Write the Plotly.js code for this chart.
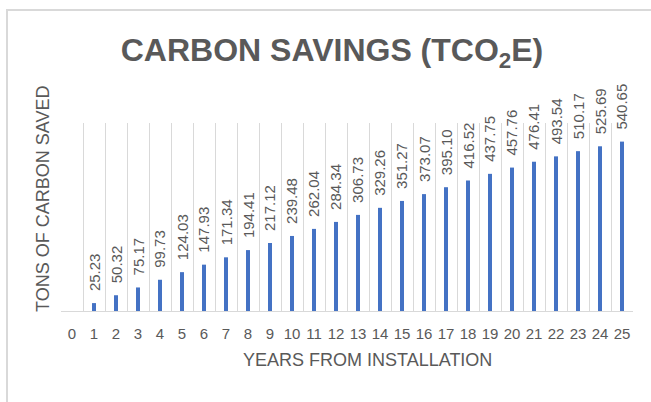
<!DOCTYPE html>
<html>
<head>
<meta charset="utf-8">
<script src="https://cdn.plot.ly/plotly-3.0.1.min.js"></script>
<style>html,body{margin:0;padding:0;background:#fff;}#chart{width:651px;height:402px;}</style>
</head>
<body>
<div id="chart"></div>
<script>
const years = ["0","1","2","3","4","5","6","7","8","9","10","11","12","13","14","15","16","17","18","19","20","21","22","23","24","25"];
const savings = [0,25.23,50.32,75.17,99.73,124.03,147.93,171.34,194.41,217.12,239.48,262.04,284.34,306.73,329.26,351.27,373.07,395.10,416.52,437.75,457.76,476.41,493.54,510.17,525.69,540.65];
const chartTitle = "CARBON SAVINGS (TCO<sub>2</sub>E)";
const xTitle = "YEARS FROM INSTALLATION";
const yTitle = "TONS OF CARBON SAVED";

const FONT = "Liberation Sans, Arial, Helvetica, sans-serif";
const GRAY = "#595959";

const labelAnns = [];
years.forEach((y, i) => {
  if (savings[i] > 0) {
    labelAnns.push({
      x: y, y: savings[i], xref: "x", yref: "y",
      text: savings[i].toFixed(2), showarrow: false,
      textangle: -90, xanchor: "center", yanchor: "bottom", yshift: 10,
      font: {family: FONT, size: 15, color: GRAY}
    });
  }
});

const annotations = labelAnns.concat([
  {text: yTitle, xref: "paper", yref: "paper", x: -0.0315, y: 0.596, showarrow: false,
   textangle: -90, xanchor: "center", yanchor: "middle", font: {family: FONT, size: 18, color: GRAY}},
  {text: xTitle, xref: "paper", yref: "paper", x: 0.535, y: -0.261, showarrow: false,
   xanchor: "center", yanchor: "middle", font: {family: FONT, size: 18, color: GRAY}}
]);

const trace = {
  type: "bar", x: years, y: savings,
  marker: {color: "#4472C4"}, hoverinfo: "x+y"
};

const layout = {
  width: 651, height: 402,
  margin: {l: 61, r: 18, t: 123, b: 91},
  paper_bgcolor: "#ffffff", plot_bgcolor: "#ffffff",
  bargap: 0.82,
  showlegend: false,
  title: {text: chartTitle, x: 332/651, xanchor: "center", xref: "container",
          y: 1 - 50/402, yanchor: "middle", yref: "container",
          font: {family: FONT, size: 32, color: GRAY, weight: "bold"}},
  xaxis: {type: "category", tickson: "boundaries", showgrid: true, gridcolor: "#d9d9d9", gridwidth: 1,
          showline: true, linecolor: "#d9d9d9", linewidth: 1, ticks: "",
          ticklabelstandoff: 9, tickangle: 0,
          tickfont: {family: FONT, size: 15, color: GRAY},
          fixedrange: true},
  yaxis: {range: [0, 600], showgrid: false, zeroline: false, showticklabels: false, showline: false,
          fixedrange: true},
  annotations: annotations,
  shapes: [{type: "rect", xref: "paper", yref: "paper",
            x0: (7-61)/572, x1: (700-61)/572, y0: (311-450)/188, y1: (311-10)/188,
            line: {color: "#d9d9d9", width: 2}, fillcolor: "rgba(0,0,0,0)", layer: "below"}]
};

Plotly.newPlot("chart", [trace], layout, {displayModeBar: false, staticPlot: true});
</script>
</body>
</html>
